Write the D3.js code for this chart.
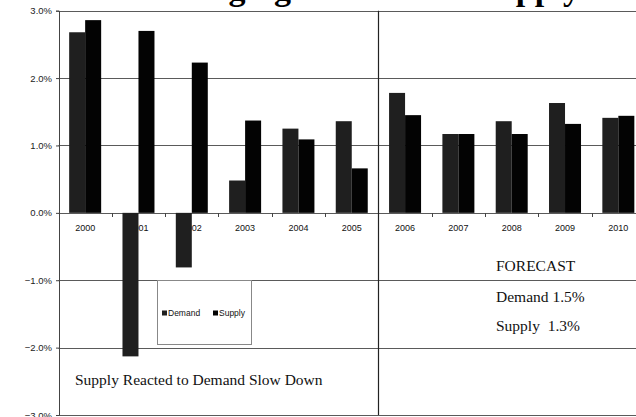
<!DOCTYPE html>
<html>
<head>
<meta charset="utf-8">
<script src="https://cdn.jsdelivr.net/npm/d3@7"></script>
<style>
  html, body { margin: 0; padding: 0; background: #fff; }
  svg { display: block; }
</style>
</head>
<body>
<svg id="chart" width="636" height="417"></svg>
<script>
// Annual growth, demand vs. supply (percent)
const years = ["2000", "2001", "2002", "2003", "2004", "2005", "2006", "2007", "2008", "2009", "2010"];
const demand = [2.68, -2.13, -0.81, 0.48, 1.25, 1.36, 1.78, 1.17, 1.36, 1.63, 1.41];
const supply = [2.86, 2.70, 2.23, 1.37, 1.09, 0.66, 1.45, 1.17, 1.17, 1.32, 1.44];
const seriesNames = ["Demand", "Supply"];
const yTicks = [-3, -2, -1, 0, 1, 2, 3];
const forecastYear = "2006";
const forecastLines = ["FORECAST", "Demand 1.5%", "Supply  1.3%"];
const historyNote = "Supply Reacted to Demand Slow Down";
const title = "US Lodging Demand vs. Supply";

const colors = { Demand: "#1f1f1f", Supply: "#030303" };

const svg = d3.select("#chart");
const plot = { left: 58.5, right: 645, top: 10.7, bottom: 415 };

const x0 = d3.scaleBand().domain(years).range([plot.left, plot.right])
  .paddingInner(0.4).paddingOuter(0.2);
const x1 = d3.scaleBand().domain(seriesNames).range([0, x0.bandwidth()]);
const y = d3.scaleLinear().domain([-3, 3]).range([plot.bottom, plot.top]);
const step = x0.step();

// title (runs off the top of the page)
svg.append("text")
  .attr("x", 580).attr("y", 0)
  .attr("text-anchor", "end")
  .attr("font-family", "Liberation Serif, Times New Roman, serif")
  .attr("font-weight", "bold")
  .attr("font-size", 34)
  .attr("fill", "#000")
  .text(title);

// horizontal gridlines
svg.append("g").selectAll("line").data(yTicks).join("line")
  .attr("x1", plot.left).attr("x2", plot.right)
  .attr("y1", d => Math.round(y(d)) + 0.5).attr("y2", d => Math.round(y(d)) + 0.5)
  .attr("stroke", "#5a5a5a").attr("stroke-width", 1);

// y axis
const yAxis = d3.axisLeft(y).tickValues(yTicks).tickSize(3)
  .tickFormat(d => d3.format(".1f")(d) + "%");
const gy = svg.append("g").attr("transform", `translate(${plot.left + 0.5},0)`).call(yAxis);
gy.select(".domain").attr("stroke", "#444");
gy.selectAll(".tick line").attr("stroke", "#444");
gy.selectAll(".tick text")
  .attr("x", -7)
  .attr("font-family", "Liberation Sans, Arial, sans-serif")
  .attr("font-size", 9.5)
  .attr("fill", "#222");

// category labels along the zero line (drawn under the bars)
svg.append("g").selectAll("text").data(years).join("text")
  .attr("x", d => x0(d) + x0.bandwidth() / 2)
  .attr("y", y(0) + 18)
  .attr("text-anchor", "middle")
  .attr("font-family", "Liberation Sans, Arial, sans-serif")
  .attr("font-size", 9)
  .attr("fill", "#111")
  .text(d => d);

// tick marks at category boundaries on the zero line
const boundaries = d3.range(years.length + 1).map(i => x0.range()[0] + i * step);
svg.append("g").selectAll("line").data(boundaries).join("line")
  .attr("x1", d => Math.round(d) + 0.5).attr("x2", d => Math.round(d) + 0.5)
  .attr("y1", Math.round(y(0))).attr("y2", Math.round(y(0)) + 4)
  .attr("stroke", "#444");

// bars
const rows = years.map((yr, i) => ({ year: yr, Demand: demand[i], Supply: supply[i] }));
svg.append("g").selectAll("g").data(rows).join("g")
  .attr("transform", d => `translate(${x0(d.year)},0)`)
  .selectAll("rect")
  .data(d => seriesNames.map(k => ({ key: k, value: d[k] })))
  .join("rect")
  .attr("x", d => x1(d.key))
  .attr("width", x1.bandwidth())
  .attr("y", d => y(Math.max(0, d.value)))
  .attr("height", d => Math.abs(y(d.value) - y(0)))
  .attr("fill", d => colors[d.key]);

// divider between history and forecast
const divX = Math.round(x0(forecastYear) - (step - x0.bandwidth()) / 2) + 0.5;
svg.append("line")
  .attr("x1", divX).attr("x2", divX)
  .attr("y1", plot.top).attr("y2", plot.bottom)
  .attr("stroke", "#222").attr("stroke-width", 1.2);

// legend
const lg = svg.append("g");
lg.append("rect")
  .attr("x", 157.5).attr("y", Math.round(y(-1)) + 0.5)
  .attr("width", 94).attr("height", 64)
  .attr("fill", "#fff").attr("stroke", "#888").attr("stroke-width", 1);
const legendItems = [{ key: "Demand", x: 162 }, { key: "Supply", x: 213 }];
legendItems.forEach(it => {
  lg.append("rect").attr("x", it.x).attr("y", 310.5).attr("width", 5).attr("height", 5)
    .attr("fill", colors[it.key]);
  lg.append("text").attr("x", it.x + 6).attr("y", 316)
    .attr("font-family", "Liberation Sans, Arial, sans-serif")
    .attr("font-size", 8.5).attr("fill", "#111")
    .text(it.key);
});

// annotations
const serif = "Liberation Serif, Times New Roman, serif";
svg.append("text")
  .attr("x", 75).attr("y", 385)
  .attr("font-family", serif).attr("font-size", 15.5).attr("fill", "#111")
  .text(historyNote);

svg.append("g").selectAll("text").data(forecastLines).join("text")
  .attr("x", 496)
  .attr("y", (d, i) => [271, 301.5, 331][i])
  .attr("font-family", serif).attr("font-size", 15.5).attr("fill", "#111")
  .attr("xml:space", "preserve")
  .style("white-space", "pre")
  .text(d => d);
</script>
</body>
</html>
